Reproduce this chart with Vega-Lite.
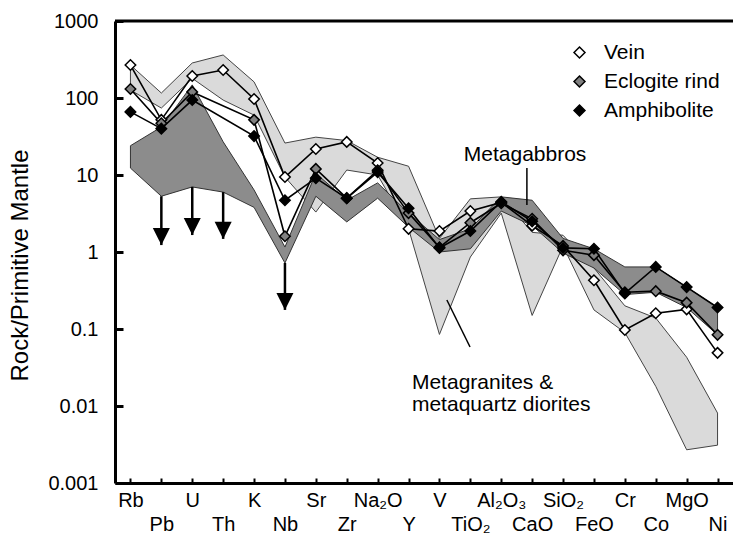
{
  "$schema": "https://vega.github.io/schema/vega-lite/v6.json",
  "width": 618,
  "height": 462,
  "autosize": "none",
  "padding": {"left": 115, "top": 21, "right": 0, "bottom": 56},
  "background": "white",
  "config": {
    "view": {"stroke": null},
    "font": "Liberation Sans",
    "text": {"font": "Liberation Sans"}
  },
  "datasets": {
    "series": [
      {"rock": "Vein", "el": "Rb", "i": 1, "v": 268},
      {"rock": "Vein", "el": "Pb", "i": 2, "v": 52},
      {"rock": "Vein", "el": "U", "i": 3, "v": 193},
      {"rock": "Vein", "el": "Th", "i": 4, "v": 231},
      {"rock": "Vein", "el": "K", "i": 5, "v": 97},
      {"rock": "Vein", "el": "Nb", "i": 6, "v": 9.4},
      {"rock": "Vein", "el": "Sr", "i": 7, "v": 21.8},
      {"rock": "Vein", "el": "Zr", "i": 8, "v": 26.9},
      {"rock": "Vein", "el": "Na2O", "i": 9, "v": 14.3},
      {"rock": "Vein", "el": "Y", "i": 10, "v": 2.0},
      {"rock": "Vein", "el": "V", "i": 11, "v": 1.87},
      {"rock": "Vein", "el": "TiO2", "i": 12, "v": 3.4},
      {"rock": "Vein", "el": "Al2O3", "i": 13, "v": 4.4},
      {"rock": "Vein", "el": "CaO", "i": 14, "v": 2.2},
      {"rock": "Vein", "el": "SiO2", "i": 15, "v": 1.2},
      {"rock": "Vein", "el": "FeO", "i": 16, "v": 0.43},
      {"rock": "Vein", "el": "Cr", "i": 17, "v": 0.097},
      {"rock": "Vein", "el": "Co", "i": 18, "v": 0.16},
      {"rock": "Vein", "el": "MgO", "i": 19, "v": 0.18},
      {"rock": "Vein", "el": "Ni", "i": 20, "v": 0.049},
      {"rock": "Eclogite rind", "el": "Rb", "i": 1, "v": 131},
      {"rock": "Eclogite rind", "el": "Pb", "i": 2, "v": 47},
      {"rock": "Eclogite rind", "el": "U", "i": 3, "v": 120},
      {"rock": "Eclogite rind", "el": "K", "i": 5, "v": 52},
      {"rock": "Eclogite rind", "el": "Nb", "i": 6, "v": 1.6},
      {"rock": "Eclogite rind", "el": "Sr", "i": 7, "v": 12},
      {"rock": "Eclogite rind", "el": "Zr", "i": 8, "v": 5.0},
      {"rock": "Eclogite rind", "el": "Na2O", "i": 9, "v": 11.5},
      {"rock": "Eclogite rind", "el": "Y", "i": 10, "v": 3.2},
      {"rock": "Eclogite rind", "el": "V", "i": 11, "v": 1.15},
      {"rock": "Eclogite rind", "el": "TiO2", "i": 12, "v": 2.4},
      {"rock": "Eclogite rind", "el": "Al2O3", "i": 13, "v": 4.3},
      {"rock": "Eclogite rind", "el": "CaO", "i": 14, "v": 2.7},
      {"rock": "Eclogite rind", "el": "SiO2", "i": 15, "v": 1.05},
      {"rock": "Eclogite rind", "el": "FeO", "i": 16, "v": 0.91},
      {"rock": "Eclogite rind", "el": "Cr", "i": 17, "v": 0.3},
      {"rock": "Eclogite rind", "el": "Co", "i": 18, "v": 0.31},
      {"rock": "Eclogite rind", "el": "MgO", "i": 19, "v": 0.22},
      {"rock": "Eclogite rind", "el": "Ni", "i": 20, "v": 0.084},
      {"rock": "Amphibolite", "el": "Rb", "i": 1, "v": 66},
      {"rock": "Amphibolite", "el": "Pb", "i": 2, "v": 40},
      {"rock": "Amphibolite", "el": "U", "i": 3, "v": 94},
      {"rock": "Amphibolite", "el": "K", "i": 5, "v": 32},
      {"rock": "Amphibolite", "el": "Nb", "i": 6, "v": 4.7},
      {"rock": "Amphibolite", "el": "Sr", "i": 7, "v": 9.1},
      {"rock": "Amphibolite", "el": "Zr", "i": 8, "v": 5.0},
      {"rock": "Amphibolite", "el": "Na2O", "i": 9, "v": 10.9},
      {"rock": "Amphibolite", "el": "Y", "i": 10, "v": 3.7},
      {"rock": "Amphibolite", "el": "V", "i": 11, "v": 1.13},
      {"rock": "Amphibolite", "el": "TiO2", "i": 12, "v": 1.87},
      {"rock": "Amphibolite", "el": "Al2O3", "i": 13, "v": 4.5},
      {"rock": "Amphibolite", "el": "CaO", "i": 14, "v": 2.5},
      {"rock": "Amphibolite", "el": "SiO2", "i": 15, "v": 1.13},
      {"rock": "Amphibolite", "el": "FeO", "i": 16, "v": 1.1},
      {"rock": "Amphibolite", "el": "Cr", "i": 17, "v": 0.29},
      {"rock": "Amphibolite", "el": "Co", "i": 18, "v": 0.64},
      {"rock": "Amphibolite", "el": "MgO", "i": 19, "v": 0.35},
      {"rock": "Amphibolite", "el": "Ni", "i": 20, "v": 0.19}
    ],
    "bands": [
      {"group": "granite", "i": 1, "lo": 127, "hi": 268},
      {"group": "granite", "i": 2, "lo": 74, "hi": 116},
      {"group": "granite", "i": 3, "lo": 180, "hi": 285},
      {"group": "granite", "i": 4, "lo": 94, "hi": 362},
      {"group": "granite", "i": 5, "lo": 60, "hi": 162},
      {"group": "granite", "i": 6, "lo": 9.4, "hi": 26},
      {"group": "granite", "i": 7, "lo": 3.3, "hi": 31},
      {"group": "granite", "i": 8, "lo": 11.6, "hi": 28},
      {"group": "granite", "i": 9, "lo": 10, "hi": 17},
      {"group": "granite", "i": 10, "lo": 2.0, "hi": 13},
      {"group": "granite", "i": 11, "lo": 0.085, "hi": 1.5},
      {"group": "granite", "i": 12, "lo": 0.86, "hi": 4.9},
      {"group": "granite", "i": 13, "lo": 3.2, "hi": 5.2},
      {"group": "granite", "i": 14, "lo": 0.15, "hi": 1.8},
      {"group": "granite", "i": 15, "lo": 1.2, "hi": 1.65},
      {"group": "granite", "i": 16, "lo": 0.177, "hi": 0.62},
      {"group": "granite", "i": 17, "lo": 0.09, "hi": 0.2},
      {"group": "granite", "i": 18, "lo": 0.018, "hi": 0.139},
      {"group": "granite", "i": 19, "lo": 0.0027, "hi": 0.043},
      {"group": "granite", "i": 20, "lo": 0.0031, "hi": 0.0081},
      {"group": "gabbro", "i": 1, "lo": 12.3, "hi": 24},
      {"group": "gabbro", "i": 2, "lo": 5.3, "hi": 42},
      {"group": "gabbro", "i": 3, "lo": 7.0, "hi": 148},
      {"group": "gabbro", "i": 4, "lo": 6.0, "hi": 27},
      {"group": "gabbro", "i": 5, "lo": 3.8, "hi": 6.4},
      {"group": "gabbro", "i": 6, "lo": 0.72, "hi": 1.16},
      {"group": "gabbro", "i": 7, "lo": 5.3, "hi": 10.5},
      {"group": "gabbro", "i": 8, "lo": 2.46, "hi": 4.7},
      {"group": "gabbro", "i": 9, "lo": 5.0, "hi": 7.9},
      {"group": "gabbro", "i": 10, "lo": 2.1, "hi": 3.2},
      {"group": "gabbro", "i": 11, "lo": 1.0, "hi": 1.45},
      {"group": "gabbro", "i": 12, "lo": 1.1, "hi": 2.0},
      {"group": "gabbro", "i": 13, "lo": 3.4, "hi": 5.2},
      {"group": "gabbro", "i": 14, "lo": 2.2, "hi": 4.7},
      {"group": "gabbro", "i": 15, "lo": 0.97, "hi": 1.5},
      {"group": "gabbro", "i": 16, "lo": 0.62, "hi": 1.1},
      {"group": "gabbro", "i": 17, "lo": 0.28, "hi": 0.64},
      {"group": "gabbro", "i": 18, "lo": 0.3, "hi": 0.64},
      {"group": "gabbro", "i": 19, "lo": 0.19, "hi": 0.35},
      {"group": "gabbro", "i": 20, "lo": 0.084, "hi": 0.19}
    ],
    "arrows": [
      {"el": "Pb", "i": 2, "from": 5.3, "to": 1.23},
      {"el": "U", "i": 3, "from": 7.0, "to": 1.66},
      {"el": "Th", "i": 4, "from": 6.0, "to": 1.48},
      {"el": "Nb", "i": 6, "from": 0.72, "to": 0.177}
    ],
    "notes": [
      {"text": "Metagabbros", "i": 13.77, "v": 18.2, "align": "center"},
      {"text": "Metagranites &", "i": 10.11, "v": 0.0199, "align": "left"},
      {"text": "metaquartz diorites", "i": 10.11, "v": 0.0103, "align": "left"}
    ],
    "pointers": [
      {"i": 13.83, "i2": 13.83, "v": 12.3, "v2": 4.07},
      {"i": 11.24, "i2": 11.99, "v": 0.238, "v2": 0.0583}
    ]
  },
  "encoding": {
    "x": {"field": "i", "type": "quantitative",
      "scale": {"domain": [0.5, 20.5], "nice": false, "zero": false},
      "axis": {
        "values": [1,2,3,4,5,6,7,8,9,10,11,12,13,14,15,16,17,18,19,20],
        "labelExpr": "['Rb','Pb','U','Th','K','Nb','Sr','Zr','Na₂O','Y','V','TiO₂','Al₂O₃','CaO','SiO₂','FeO','Cr','Co','MgO','Ni'][datum.value - 1]",
        "title": null, "grid": false,
        "domainColor": "black", "domainWidth": 3,
        "tickColor": "black", "tickWidth": 2, "tickSize": -5,
        "labelFontSize": 20, "labelColor": "black",
        "labelPadding": {"condition": {"test": "datum.value % 2 == 0", "value": 36}, "value": 12},
        "labelOverlap": false, "labelFlush": false, "labelBaseline": "top", "labelAlign": "center"
      }}
  },
  "layer": [
    {
      "data": {"name": "bands"},
      "transform": [{"filter": "datum.group == 'granite'"}],
      "mark": {"type": "area", "fill": "#dadada", "stroke": "#444444", "strokeWidth": 1, "interpolate": "linear"},
      "encoding": {
        "y": {"field": "hi", "type": "quantitative",
          "scale": {"type": "log", "domain": [0.001, 1000], "nice": false},
          "axis": {
            "values": [0.001, 0.01, 0.1, 1, 10, 100, 1000],
            "format": "~g",
            "title": "Rock/Primitive Mantle", "titleFontSize": 24, "titleFontWeight": "normal", "titleColor": "black",
            "titleX": -95, "titleY": 244, "titleAngle": -90, "titleAlign": "center", "titleBaseline": "middle",
            "grid": false,
            "domainColor": "black", "domainWidth": 3,
            "tickColor": "black", "tickWidth": 3, "tickSize": -8,
            "labelFontSize": 20, "labelColor": "black", "labelPadding": 25,
            "labelOverlap": false, "labelFlush": false
          }},
        "y2": {"field": "lo"}
      }
    },
    {
      "data": {"name": "bands"},
      "transform": [{"filter": "datum.group == 'gabbro'"}],
      "mark": {"type": "area", "fill": "#8c8c8c", "stroke": "#333333", "strokeWidth": 1, "interpolate": "linear"},
      "encoding": {
        "y": {"field": "hi", "type": "quantitative"},
        "y2": {"field": "lo"}
      }
    },
    {
      "data": {"name": "arrows"},
      "mark": {"type": "rule", "color": "black", "strokeWidth": 2.5},
      "encoding": {
        "y": {"field": "from", "type": "quantitative"},
        "y2": {"field": "to"}
      }
    },
    {
      "data": {"name": "arrows"},
      "mark": {"type": "point", "shape": "M-1,-2L1,-2L0,0Z", "size": 290, "filled": true, "color": "black", "opacity": 1},
      "encoding": {
        "y": {"field": "to", "type": "quantitative"}
      }
    },
    {
      "data": {"name": "pointers"},
      "mark": {"type": "rule", "color": "black", "strokeWidth": 1.5},
      "encoding": {
        "x2": {"field": "i2"},
        "y": {"field": "v", "type": "quantitative"},
        "y2": {"field": "v2"}
      }
    },
    {
      "data": {"name": "notes"},
      "transform": [{"filter": "datum.align == 'center'"}],
      "mark": {"type": "text", "fontSize": 21, "color": "black", "align": "center", "baseline": "middle"},
      "encoding": {
        "y": {"field": "v", "type": "quantitative"},
        "text": {"field": "text"}
      }
    },
    {
      "data": {"name": "notes"},
      "transform": [{"filter": "datum.align == 'left'"}],
      "mark": {"type": "text", "fontSize": 21, "color": "black", "align": "left", "baseline": "middle"},
      "encoding": {
        "y": {"field": "v", "type": "quantitative"},
        "text": {"field": "text"}
      }
    },
    {
      "data": {"name": "series"},
      "mark": {"type": "line", "color": "black", "strokeWidth": 1.6},
      "encoding": {
        "y": {"field": "v", "type": "quantitative"},
        "detail": {"field": "rock"}
      }
    },
    {
      "data": {"name": "series"},
      "mark": {"type": "point", "shape": "diamond", "size": 110, "filled": true, "stroke": "black", "strokeWidth": 1.5, "opacity": 1},
      "encoding": {
        "y": {"field": "v", "type": "quantitative"},
        "fill": {"field": "rock", "type": "nominal",
          "scale": {"domain": ["Vein", "Eclogite rind", "Amphibolite"], "range": ["white", "#808080", "black"]},
          "legend": {
            "title": null, "orient": "none", "legendX": 454, "legendY": 21,
            "symbolType": "diamond", "symbolSize": 120, "symbolStrokeColor": "black", "symbolStrokeWidth": 1.5, "symbolOpacity": 1,
            "labelFontSize": 21, "labelColor": "black", "labelOffset": 14, "rowPadding": 7
          }}
      }
    },
    {
      "data": {"values": [{"top": 1000}]},
      "mark": {"type": "rule", "color": "black", "strokeWidth": 3},
      "encoding": {"x": {"value": 0}, "x2": {"value": 618}, "y": {"field": "top", "type": "quantitative"}}
    }
  ]
}
